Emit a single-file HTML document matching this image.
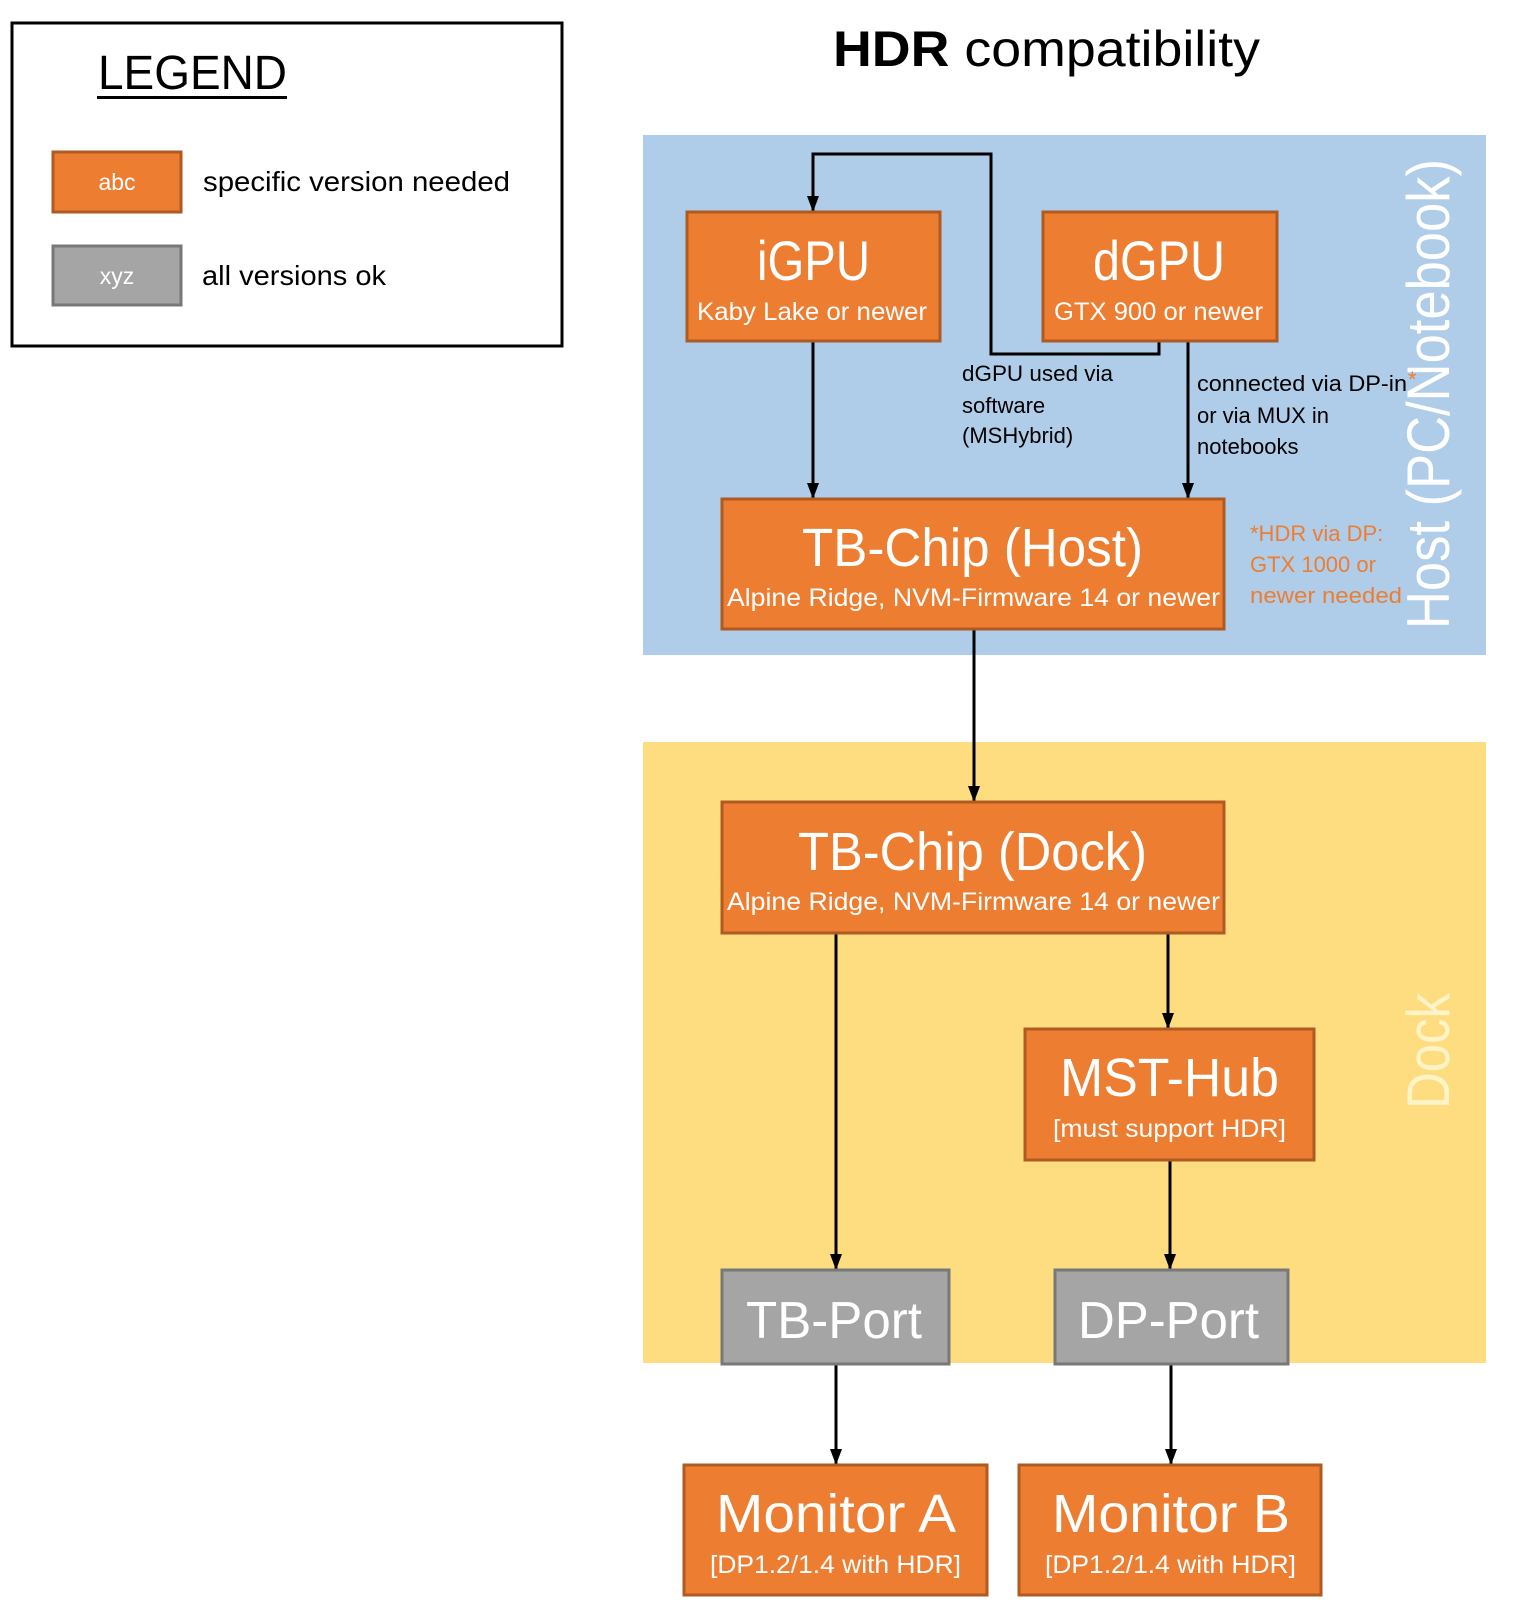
<!DOCTYPE html>
<html><head><meta charset="utf-8"><style>
html,body{margin:0;padding:0;background:#fff;}
svg{display:block;font-family:"Liberation Sans",sans-serif;}
</style></head><body>
<svg width="1515" height="1608" viewBox="0 0 1515 1608" xmlns="http://www.w3.org/2000/svg">
<defs>
<marker id="ar" viewBox="0 0 16 12" markerWidth="16" markerHeight="12" refX="16" refY="6" orient="auto" markerUnits="userSpaceOnUse"><path d="M0,0 L16,6 L0,12 z" fill="#000"/></marker></defs>
<!-- legend -->
<rect x="12" y="23" width="550" height="323" fill="#fff" stroke="#000" stroke-width="3"/>
<text x="98" y="89" font-size="48" textLength="189" lengthAdjust="spacingAndGlyphs">LEGEND</text>
<rect x="97" y="96" width="190" height="3" fill="#000"/>
<rect x="53" y="152" width="128" height="60" fill="#ed7d31" stroke="#ae5a21" stroke-width="3"/>
<text x="117" y="190" font-size="23" fill="#fff" text-anchor="middle">abc</text>
<text x="203" y="191" font-size="28" textLength="307" lengthAdjust="spacingAndGlyphs">specific version needed</text>
<rect x="53" y="246" width="128" height="59" fill="#a5a5a5" stroke="#787878" stroke-width="3"/>
<text x="117" y="284" font-size="23" fill="#fff" text-anchor="middle">xyz</text>
<text x="202" y="285" font-size="28" textLength="184" lengthAdjust="spacingAndGlyphs">all versions ok</text>
<!-- title -->
<text x="833" y="66" font-size="50" textLength="427" lengthAdjust="spacingAndGlyphs"><tspan font-weight="bold">HDR</tspan> compatibility</text>
<!-- regions -->
<rect x="643" y="135" width="843" height="520" fill="#afcde9"/>
<rect x="643" y="742" width="843" height="621" fill="#fddd80"/>
<text transform="translate(1449,394) rotate(-90)" font-size="60" fill="#fff" text-anchor="middle" textLength="470" lengthAdjust="spacingAndGlyphs">Host (PC/Notebook)</text>
<text transform="translate(1449,1051) rotate(-90)" font-size="60" fill="#fff4c8" text-anchor="middle" textLength="116" lengthAdjust="spacingAndGlyphs">Dock</text>
<!-- connectors -->
<g stroke="#000" stroke-width="3" fill="none" marker-end="url(#ar)">
<path d="M1159,341 V354 H991 V154 H813 V212"/>
<path d="M813,341 V499"/>
<path d="M1188,341 V499"/>
<path d="M974,629 V802"/>
<path d="M836,933 V1270"/>
<path d="M1168,933 V1029"/>
<path d="M1170,1160 V1270"/>
<path d="M836,1364 V1465"/>
<path d="M1171,1364 V1465"/>
</g>
<!-- boxes -->
<g stroke="#ae5a21" stroke-width="3" fill="#ed7d31">
<rect x="687" y="212" width="253" height="129"/>
<rect x="1043" y="212" width="234" height="129"/>
<rect x="722" y="499" width="502" height="130"/>
<rect x="722" y="802" width="502" height="131"/>
<rect x="1025" y="1029" width="289" height="131"/>
<rect x="684" y="1465" width="303" height="130"/>
<rect x="1019" y="1465" width="302" height="130"/>
</g>
<g stroke="#787878" stroke-width="3" fill="#a5a5a5">
<rect x="722" y="1270" width="227" height="94"/>
<rect x="1055" y="1270" width="233" height="94"/>
</g>
<g fill="#fff">
<text x="757" y="280" font-size="56" textLength="113" lengthAdjust="spacingAndGlyphs">iGPU</text>
<text x="697" y="320" font-size="25" textLength="230" lengthAdjust="spacingAndGlyphs">Kaby Lake or newer</text>
<text x="1093" y="280" font-size="56" textLength="132" lengthAdjust="spacingAndGlyphs">dGPU</text>
<text x="1054" y="320" font-size="25" textLength="209" lengthAdjust="spacingAndGlyphs">GTX 900 or newer</text>
<text x="802" y="566" font-size="54" textLength="341" lengthAdjust="spacingAndGlyphs">TB-Chip (Host)</text>
<text x="727" y="606" font-size="25" textLength="493" lengthAdjust="spacingAndGlyphs">Alpine Ridge, NVM-Firmware 14 or newer</text>
<text x="798" y="870" font-size="54" textLength="349" lengthAdjust="spacingAndGlyphs">TB-Chip (Dock)</text>
<text x="727" y="910" font-size="25" textLength="493" lengthAdjust="spacingAndGlyphs">Alpine Ridge, NVM-Firmware 14 or newer</text>
<text x="1060" y="1096" font-size="54" textLength="219" lengthAdjust="spacingAndGlyphs">MST-Hub</text>
<text x="1053" y="1137" font-size="25" textLength="233" lengthAdjust="spacingAndGlyphs">[must support HDR]</text>
<text x="746" y="1338" font-size="52" textLength="176" lengthAdjust="spacingAndGlyphs">TB-Port</text>
<text x="1078" y="1338" font-size="52" textLength="181" lengthAdjust="spacingAndGlyphs">DP-Port</text>
<text x="716" y="1532" font-size="54" textLength="240" lengthAdjust="spacingAndGlyphs">Monitor A</text>
<text x="710" y="1573" font-size="25" textLength="251" lengthAdjust="spacingAndGlyphs">[DP1.2/1.4 with HDR]</text>
<text x="1052" y="1532" font-size="54" textLength="238" lengthAdjust="spacingAndGlyphs">Monitor B</text>
<text x="1045" y="1573" font-size="25" textLength="251" lengthAdjust="spacingAndGlyphs">[DP1.2/1.4 with HDR]</text>
</g>
<!-- labels -->
<g font-size="22" fill="#000">
<text x="962" y="381" textLength="151" lengthAdjust="spacingAndGlyphs">dGPU used via</text>
<text x="962" y="413">software</text>
<text x="962" y="443">(MSHybrid)</text>
<text x="1197" y="391" textLength="210" lengthAdjust="spacingAndGlyphs">connected via DP-in</text>
<text x="1408" y="387" fill="#ed7d31">*</text>
<text x="1197" y="423">or via MUX in</text>
<text x="1197" y="454">notebooks</text>
</g>
<g font-size="22" fill="#ed7d31">
<text x="1250" y="541">*HDR via DP:</text>
<text x="1250" y="572">GTX 1000 or</text>
<text x="1250" y="603" textLength="152" lengthAdjust="spacingAndGlyphs">newer needed</text>
</g>
</svg>
</body></html>
